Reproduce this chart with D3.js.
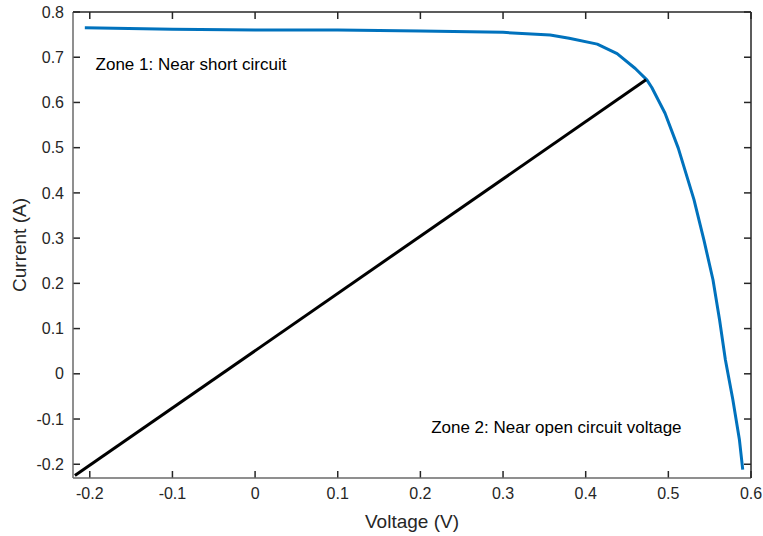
<!DOCTYPE html>
<html><head><meta charset="utf-8">
<script src="https://cdn.jsdelivr.net/npm/d3@7"></script>
<style>body{margin:0;background:#fff}svg{display:block}text{font-family:"Liberation Sans",Arial,Helvetica,sans-serif}</style>
</head><body>
<svg id="c" width="763" height="536"></svg>
<script>
const curveV = [-0.206,-0.1,0,0.1,0.2,0.3,0.357,0.38,0.414,0.438,0.460,0.474,0.480,0.496,0.512,0.531,0.543,0.554,0.562,0.569,0.578,0.586,0.590];
const curveI = [0.765,0.762,0.760,0.760,0.758,0.755,0.749,0.742,0.729,0.708,0.675,0.650,0.633,0.576,0.499,0.385,0.296,0.208,0.119,0.031,-0.057,-0.146,-0.212];
const lineV = [-0.218,0.473];
const lineI = [-0.225,0.650];
const xTicks = [-0.2,-0.1,0,0.1,0.2,0.3,0.4,0.5,0.6];
const yTicks = [-0.2,-0.1,0,0.1,0.2,0.3,0.4,0.5,0.6,0.7,0.8];
const xLabel = "Voltage (V)", yLabel = "Current (A)";
const notes = [{t:"Zone 1: Near short circuit", v:-0.193, i:0.686},{t:"Zone 2: Near open circuit voltage", v:0.213, i:-0.118}];

const L=73,R=751,T=12,B=478;
const svg=d3.select("#c");
const x=d3.scaleLinear().domain([-0.2203,0.6]).range([L,R]);
const y=d3.scaleLinear().domain([-0.2304,0.8]).range([B,T]);
const fmt=d => d===0?"0":d3.format(".1f")(d).replace("\u2212","-");
const tc="#262626", tl=7;
const g=svg.append("g");
xTicks.forEach(v=>{
  g.append("line").attr("x1",x(v)).attr("x2",x(v)).attr("y1",B).attr("y2",B-tl).attr("stroke",tc).attr("stroke-width",1.5);
  g.append("line").attr("x1",x(v)).attr("x2",x(v)).attr("y1",T).attr("y2",T+tl).attr("stroke",tc).attr("stroke-width",1.5);
  g.append("text").attr("x",x(v)).attr("y",B+21).attr("text-anchor","middle").attr("font-size",16).attr("fill",tc).text(fmt(v));
});
yTicks.forEach(v=>{
  g.append("line").attr("x1",L).attr("x2",L+tl).attr("y1",y(v)).attr("y2",y(v)).attr("stroke",tc).attr("stroke-width",1.5);
  g.append("line").attr("x1",R).attr("x2",R-tl).attr("y1",y(v)).attr("y2",y(v)).attr("stroke",tc).attr("stroke-width",1.5);
  g.append("text").attr("x",L-9).attr("y",y(v)).attr("dy","0.35em").attr("text-anchor","end").attr("font-size",16).attr("fill",tc).text(fmt(v));
});
g.append("line").attr("x1",L).attr("x2",L).attr("y1",T).attr("y2",B).attr("stroke","#6a6a6a").attr("stroke-width",1.5);
g.append("line").attr("x1",L).attr("x2",R).attr("y1",B).attr("y2",B).attr("stroke","#6a6a6a").attr("stroke-width",1.5);
g.append("line").attr("x1",R).attr("x2",R).attr("y1",T).attr("y2",B).attr("stroke",tc).attr("stroke-width",1.5);
g.append("line").attr("x1",L).attr("x2",R).attr("y1",T).attr("y2",T).attr("stroke",tc).attr("stroke-width",1.5);

const ln=d3.line().x(d=>x(d[0])).y(d=>y(d[1]));
svg.append("path").datum(curveV.map((v,k)=>[v,curveI[k]])).attr("d",ln).attr("fill","none").attr("stroke","#0072BD").attr("stroke-width",3).attr("stroke-linejoin","round");
svg.append("path").datum(lineV.map((v,k)=>[v,lineI[k]])).attr("d",ln).attr("fill","none").attr("stroke","#000").attr("stroke-width",3);

notes.forEach(n=>svg.append("text").attr("x",x(n.v)).attr("y",y(n.i)).attr("dy","0.35em").attr("font-size",17).attr("fill","#000").text(n.t));
svg.append("text").attr("x",(L+R)/2).attr("y",528).attr("text-anchor","middle").attr("font-size",19).attr("fill",tc).text(xLabel);
svg.append("text").attr("transform",`translate(26,${(T+B)/2}) rotate(-90)`).attr("text-anchor","middle").attr("font-size",19).attr("fill",tc).text(yLabel);
</script>
</body></html>
